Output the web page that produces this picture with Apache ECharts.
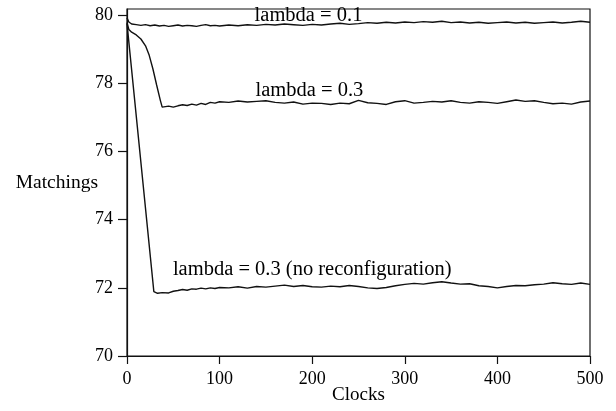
<!DOCTYPE html>
<html>
<head>
<meta charset="utf-8">
<script src="https://cdn.jsdelivr.net/npm/echarts@6/dist/echarts.min.js"></script>
<style>html,body{margin:0;padding:0;background:#fff}#c{width:616px;height:411px}</style>
</head>
<body>
<div id="c"></div>
<script>
// ---- data ----
var xTicks = [0, 100, 200, 300, 400, 500];
var yTicks = [70, 72, 74, 76, 78, 80];

var clocksA = [0,2,5,10,15,20,25,30,35,40,45,50,55,60,65,70,75,80,85,90,95,100,
  110,120,130,140,150,160,170,180,190,200,210,220,230,240,250,260,270,280,290,300,
  310,320,330,340,350,360,370,380,390,400,410,420,430,440,450,460,470,480,490,500];
var lambda01 = [79.92,79.80,79.74,79.72,79.70,79.72,79.69,79.71,79.68,79.70,79.67,79.69,79.71,79.68,79.70,79.69,79.67,79.70,79.72,79.69,79.70,79.68,
  79.71,79.69,79.72,79.70,79.73,79.71,79.74,79.72,79.70,79.73,79.71,79.74,79.76,79.73,79.75,79.78,79.76,79.79,79.77,79.80,
  79.78,79.81,79.79,79.82,79.78,79.80,79.77,79.79,79.76,79.78,79.80,79.77,79.79,79.76,79.78,79.80,79.77,79.79,79.82,79.79];

var clocksB = [0,2,5,10,15,20,24,28,32,36,38,45,50,55,60,65,70,75,80,85,90,95,100,
  110,120,130,140,150,160,170,180,190,200,210,220,230,240,250,260,270,280,290,300,
  310,320,330,340,350,360,370,380,390,400,410,420,430,440,450,460,470,480,490,500];
var lambda03 = [79.78,79.58,79.50,79.42,79.30,79.10,78.82,78.42,77.95,77.50,77.30,77.33,77.30,77.34,77.37,77.35,77.39,77.36,77.41,77.38,77.44,77.42,77.46,
  77.44,77.48,77.45,77.47,77.49,77.44,77.42,77.45,77.39,77.42,77.41,77.38,77.42,77.40,77.50,77.43,77.41,77.38,77.46,77.49,
  77.42,77.44,77.47,77.45,77.49,77.44,77.42,77.46,77.44,77.41,77.46,77.51,77.47,77.49,77.44,77.40,77.42,77.39,77.45,77.48];

var clocksC = [0,29,33,38,45,50,55,60,65,70,75,80,85,90,95,100,
  110,120,130,140,150,160,170,180,190,200,210,220,230,240,250,260,270,280,290,300,
  310,320,330,340,350,360,370,380,390,400,410,420,430,440,450,460,470,480,490,500];
var lambda03NoReconf = [79.75,71.89,71.84,71.86,71.85,71.90,71.92,71.95,71.93,71.97,71.96,71.99,71.97,72.00,71.98,72.01,
  72.00,72.03,71.99,72.04,72.02,72.05,72.08,72.04,72.07,72.03,72.02,72.05,72.03,72.07,72.04,72.00,71.98,72.01,72.06,72.10,
  72.13,72.11,72.15,72.18,72.14,72.11,72.12,72.06,72.04,72.00,72.04,72.07,72.06,72.09,72.11,72.15,72.12,72.10,72.14,72.10];

var seriesLabels = ['lambda = 0.1', 'lambda = 0.3', 'lambda = 0.3 (no reconfiguration)'];
var labelX = [196, 197, 200];
var labelY = [80.0, 77.78, 72.54];

function zip(xs, ys) { return xs.map(function (x, i) { return [x, ys[i]]; }); }

var FONT = '"Liberation Serif", "Times New Roman", serif';
var lineStyle = { color: '#111', width: 1.4 };

var chart = echarts.init(document.getElementById('c'), null, { renderer: 'canvas' });
chart.setOption({
  animation: false,
  backgroundColor: '#fff',
  grid: { left: 127, right: 26, top: 9, bottom: 55, show: true, borderColor: '#111', borderWidth: 1.2,
    containLabel: false, outerBoundsMode: 'none' },
  xAxis: {
    type: 'value', min: 0, max: 500, interval: 100,
    name: 'Clocks', nameLocation: 'middle', nameGap: 30, nameMoveOverlap: false,
    nameTextStyle: { fontFamily: FONT, fontSize: 19, color: '#000' },
    axisLine: { show: true, lineStyle: { color: '#111', width: 1.2 } },
    axisTick: { show: true, inside: false, length: 8, lineStyle: { color: '#111', width: 1.2 } },
    axisLabel: { margin: 14, fontFamily: FONT, fontSize: 18, color: '#000' },
    splitLine: { show: false }
  },
  yAxis: {
    type: 'value', min: 70, max: 80.18, interval: 2,
    name: 'Matchings', nameLocation: 'middle', nameRotate: 0, nameGap: 29, nameMoveOverlap: false,
    nameTextStyle: { fontFamily: FONT, fontSize: 19.5, color: '#000' },
    axisLine: { show: true, lineStyle: { color: '#111', width: 1.2 } },
    axisTick: { show: true, inside: false, length: 9, customValues: yTicks, lineStyle: { color: '#111', width: 1.2 } },
    axisLabel: { margin: 14, fontFamily: FONT, fontSize: 18, color: '#000', customValues: yTicks,
      formatter: function (v) { return (Math.abs(v % 2) < 1e-9) ? String(v) : ''; } },
    splitLine: { show: false }
  },
  series: [
    { type: 'line', data: zip(clocksA, lambda01), showSymbol: false, symbol: 'none', lineStyle: lineStyle },
    { type: 'line', data: zip(clocksB, lambda03), showSymbol: false, symbol: 'none', lineStyle: lineStyle },
    { type: 'line', data: zip(clocksC, lambda03NoReconf), showSymbol: false, symbol: 'none', lineStyle: lineStyle },
    {
      type: 'scatter', symbolSize: 1, itemStyle: { color: 'rgba(0,0,0,0)', opacity: 1 }, silent: true, z: 5,
      data: seriesLabels.map(function (t, i) { return { name: t, value: [labelX[i], labelY[i]] }; }),
      label: { show: true, position: 'inside', formatter: function (p) { return p.name; },
        fontFamily: FONT, fontSize: 20.5, color: '#000', opacity: 1, textBorderWidth: 0 }
    }
  ]
});
</script>
</body>
</html>
